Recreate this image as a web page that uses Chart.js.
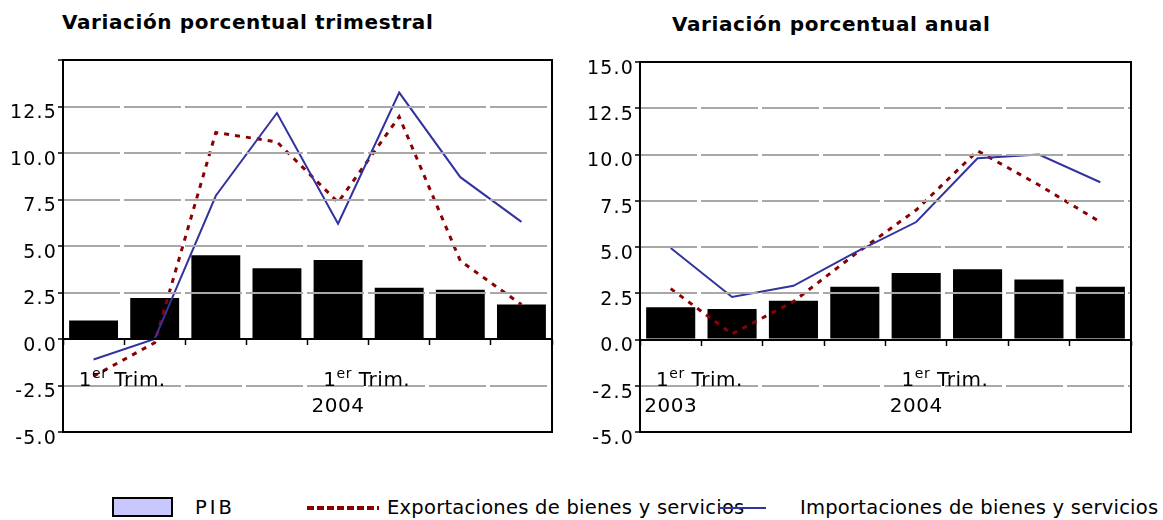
<!DOCTYPE html>
<html>
<head>
<meta charset="utf-8">
<script src="https://cdn.jsdelivr.net/npm/chart.js@4.4.1/dist/chart.umd.min.js"></script>
<style>
  body { margin: 0; background: #fff; width: 1163px; height: 520px; position: relative; overflow: hidden; font-family: 'DejaVu Sans', sans-serif; }
  .titulo { position: absolute; font-weight: bold; font-size: 20px; letter-spacing: 0.6px; line-height: 24px; color: #000; white-space: nowrap; }
  .lienzo { position: absolute; top: 0; }
  .ley { position: absolute; font-size: 19.5px; letter-spacing: 0.25px; line-height: 22px; top: 497px; white-space: nowrap; color: #000; }
</style>
</head>
<body>
<div class="titulo" style="left:62px; top:10px;">Variación porcentual trimestral</div>
<div class="titulo" style="left:672px; top:12px;">Variación porcentual anual</div>

<canvas id="grafico_trimestral" class="lienzo" style="left:0px" width="580" height="480"></canvas>
<canvas id="grafico_anual" class="lienzo" style="left:580px" width="583" height="480"></canvas>

<div style="position:absolute; left:112px; top:497px; width:57px; height:16px; background:#c8c8ff; border:2px solid #000;"></div>
<span class="ley" style="left:195px; letter-spacing:3px;">PIB</span>
<div style="position:absolute; left:307px; top:506px; width:72px; height:4px; background:repeating-linear-gradient(to right, #8b0000 0 7px, transparent 7px 10px);"></div>
<span class="ley" style="left:387px;">Exportaciones de bienes y servicios</span>
<div style="position:absolute; left:718px; top:507px; width:48px; height:2px; background:#3333a0;"></div>
<span class="ley" style="left:800px;">Importaciones de bienes y servicios</span>

<script>
let categorias = ['I-2003', 'II-2003', 'III-2003', 'IV-2003', 'I-2004', 'II-2004', 'III-2004', 'IV-2004'];
let trimestres = ['1er Trim.', '', '', '', '1er Trim.', '', '', ''];
let anios_trimestral = ['', '', '', '', '2004', '', '', ''];
let anios_anual = ['2003', '', '', '', '2004', '', '', ''];
let ticks_y = [-5, -2.5, 0, 2.5, 5, 7.5, 10, 12.5, 15];

// variacion trimestral
let pib_trimestral = [1.0, 2.2, 4.5, 3.8, 4.25, 2.75, 2.65, 1.85];
let export_trimestral = [-2.0, -0.2, 11.1, 10.6, 7.35, 11.95, 4.2, 1.85];
let import_trimestral = [-1.1, 0.0, 7.7, 12.15, 6.2, 13.25, 8.7, 6.3];

// variacion anual
let pib_anual = [1.75, 1.65, 2.1, 2.85, 3.6, 3.8, 3.25, 2.85];
let export_anual = [2.75, 0.3, 2.05, 4.6, 7.0, 10.2, 8.35, 6.35];
let import_anual = [4.95, 2.3, 2.9, 4.7, 6.35, 9.8, 10.0, 8.5];

const fuente = 'DejaVu Sans';

function pluginEtiquetas(anios) {
    return {
        id: 'etiquetas',
        beforeDraw(chart) {
            chart.ctx.letterSpacing = '1.2px';
        },
        afterDraw(chart) {
            const ctx = chart.ctx;
            const x = chart.scales.x;
            const y = chart.scales.y;
            const ancho = x.getPixelForValue(1) - x.getPixelForValue(0);
            const base = y.getPixelForValue(-2.5);
            ctx.save();
            ctx.letterSpacing = '0.5px';
            ctx.fillStyle = '#000';
            ctx.textBaseline = 'alphabetic';
            ctx.textAlign = 'left';
            trimestres.forEach((t, i) => {
                if (!t) return;
                const cx = x.getPixelForValue(i) + ancho * 0.47;
                ctx.font = '20px ' + fuente;
                const w1 = ctx.measureText('1').width;
                const w3 = ctx.measureText(' Trim.').width;
                ctx.font = '14px ' + fuente;
                const w2 = ctx.measureText('er').width;
                let px = cx - (w1 + w2 + w3) / 2;
                ctx.font = '20px ' + fuente;
                ctx.fillText('1', px, base);
                px += w1;
                ctx.font = '14px ' + fuente;
                ctx.fillText('er', px, base - 8);
                px += w2;
                ctx.font = '20px ' + fuente;
                ctx.fillText(' Trim.', px, base);
            });
            ctx.textAlign = 'center';
            ctx.font = '20px ' + fuente;
            anios.forEach((a, i) => {
                if (!a) return;
                ctx.fillText(a, x.getPixelForValue(i), base + 26);
            });
            // marco del grafico
            const ca = chart.chartArea;
            ctx.strokeStyle = '#000';
            ctx.lineWidth = 2;
            ctx.strokeRect(ca.left, ca.top, ca.right - ca.left, ca.bottom - ca.top);
            ctx.restore();
        }
    };
}

function graficar(id, pib, exportaciones, importaciones, anios, anchoEje, padding, mostrar15) {
    const data = {
        labels: categorias,
        datasets: [{
            type: 'line',
            label: 'Importaciones de bienes y servicios',
            data: importaciones,
            borderColor: '#3333a0',
            borderWidth: 2,
            pointRadius: 0,
            tension: 0,
            order: 1
        }, {
            type: 'line',
            label: 'Exportaciones de bienes y servicios',
            data: exportaciones,
            borderColor: '#8b0000',
            borderWidth: 3,
            borderDash: [5, 6],
            pointRadius: 0,
            tension: 0,
            order: 2
        }, {
            type: 'bar',
            label: 'PIB',
            data: pib,
            backgroundColor: '#000',
            categoryPercentage: 1,
            barPercentage: 0.8,
            order: 3
        }]
    };

    const config = {
        type: 'bar',
        data: data,
        options: {
            responsive: false,
            animation: false,
            layout: { padding: padding },
            plugins: { legend: { display: false }, tooltip: { enabled: false } },
            scales: {
                x: {
                    position: { y: 0 },
                    offset: true,
                    ticks: { display: false },
                    grid: { offset: true, drawOnChartArea: false, drawTicks: true, tickLength: 5, tickColor: '#000', tickWidth: 1.5 },
                    border: { display: true, color: '#000', width: 2, z: 2 }
                },
                y: {
                    min: -5,
                    max: 15,
                    afterBuildTicks: (s) => { s.ticks = ticks_y.map(v => ({ value: v })); },
                    afterFit: (s) => { s.width = anchoEje; },
                    ticks: {
                        color: '#000',
                        font: { family: fuente, size: 19 },
                        padding: 1,
                        labelOffset: 7,
                        callback: (v) => (v === 15 && !mostrar15) ? '' : v.toFixed(1)
                    },
                    grid: {
                        color: (c) => (c.tick && c.tick.value === 0) ? 'rgba(0,0,0,0)' : '#a8a8a8',
                        lineWidth: 2,
                        tickColor: '#000',
                        tickLength: 5,
                        tickWidth: 1.5,
                        z: 1
                    },
                    border: { display: false, dash: [57, 4] }
                }
            }
        },
        plugins: [pluginEtiquetas(anios)]
    };

    return new Chart(document.querySelector(id).getContext('2d'), config);
}

graficar('#grafico_trimestral', pib_trimestral, export_trimestral, import_trimestral, anios_trimestral, 63,
    { top: 60, right: 28, bottom: 48, left: 0 }, false);
graficar('#grafico_anual', pib_anual, export_anual, import_anual, anios_anual, 60,
    { top: 62, right: 32, bottom: 48, left: 0 }, true);
</script>
</body>
</html>
